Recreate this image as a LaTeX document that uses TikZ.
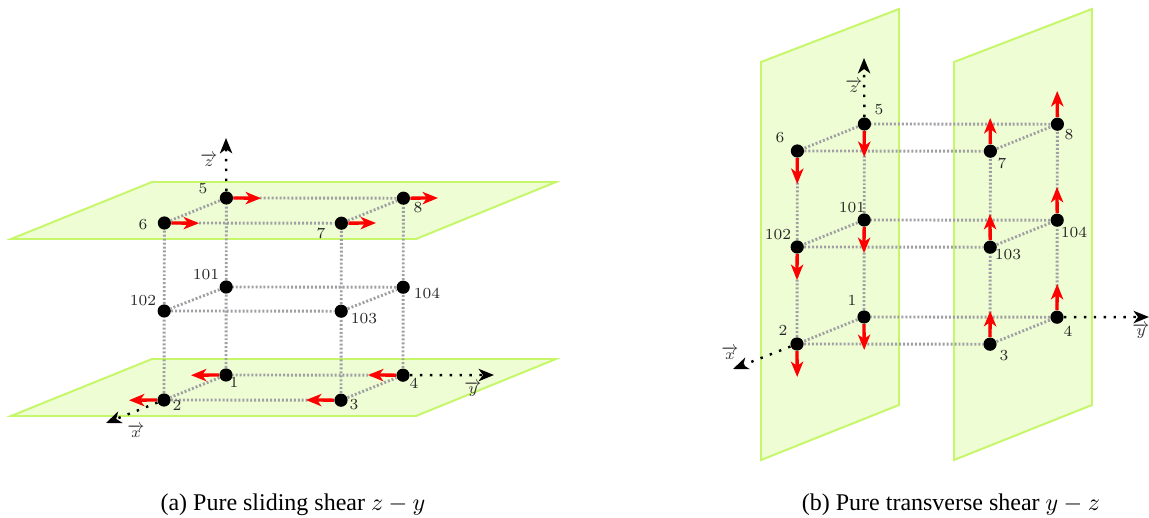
\documentclass[tikz,border=0pt]{standalone}
\usepackage{amsmath}
\usepackage{fontspec}
\setmainfont{Liberation Serif}
\usetikzlibrary{arrows.meta}
\tikzset{
    planebox/.style={draw=planeline, fill=planefill, line width=0.9pt},
    pt/.style={circle, fill=black, inner sep=0pt, minimum size=6pt},
    edgeline/.style={edgegray, line width=1.3pt, dash pattern=on 0.9pt off 0.9pt},
    axisline/.style={->, line width=1.1pt, dash pattern=on 1.1pt off 3.4pt},
    shear/.style={->, red, line width=1.5pt},
    num/.style={font=\scriptsize, inner sep=0pt, text=black!85},
    axislabel/.style={font=\scriptsize, inner sep=0pt, text=black!80},
    caption/.style={inner sep=0pt, font=\fontsize{10.9pt}{13pt}\selectfont}
}
\definecolor{planeline}{HTML}{C6F76A}
\definecolor{planefill}{HTML}{EFFDD4}
\definecolor{edgegray}{HTML}{A0A0A4}
\begin{document}
\begin{tikzpicture}[x=0.4545pt, y=-0.4545pt, >={Stealth[length=7pt,width=5.6pt,inset=2pt]}]
    \useasboundingbox (0,0) rectangle (1149,518);

    % Planes of the sliding shear
    \draw[planebox] (11,239) -- (152,182) -- (556,182) -- (416,239) -- cycle;
    \draw[planebox] (11,416) -- (152,359) -- (556,359) -- (416,416) -- cycle;

    % Points of the sliding shear
    \node[pt] (a1) at (226,375) {};
    \node[pt] (a2) at (164,400) {};
    \node[pt] (a3) at (341,400.2) {};
    \node[pt] (a4) at (403,375.2) {};
    \node[pt] (a5) at (226.4,198) {};
    \node[pt] (a6) at (164.4,223) {};
    \node[pt] (a7) at (341.4,223.2) {};
    \node[pt] (a8) at (403.4,198.2) {};
    \node[pt] (a101) at (226.2,287) {};
    \node[pt] (a102) at (164.2,311) {};
    \node[pt] (a103) at (341.2,311.2) {};
    \node[pt] (a104) at (403.2,287.2) {};

    % Edges of the sliding shear
    \draw[edgeline] (a1) -- (a101);
    \draw[edgeline] (a101) -- (a5);
    \draw[edgeline] (a2) -- (a102);
    \draw[edgeline] (a102) -- (a6);
    \draw[edgeline] (a3) -- (a103);
    \draw[edgeline] (a103) -- (a7);
    \draw[edgeline] (a4) -- (a104);
    \draw[edgeline] (a104) -- (a8);
    \draw[edgeline] (a1) -- (a2);
    \draw[edgeline] (a2) -- (a3);
    \draw[edgeline] (a3) -- (a4);
    \draw[edgeline] (a4) -- (a1);
    \draw[edgeline] (a5) -- (a6);
    \draw[edgeline] (a6) -- (a7);
    \draw[edgeline] (a7) -- (a8);
    \draw[edgeline] (a8) -- (a5);
    \draw[edgeline] (a101) -- (a102);
    \draw[edgeline] (a102) -- (a103);
    \draw[edgeline] (a103) -- (a104);
    \draw[edgeline] (a104) -- (a101);

    % Axes of the sliding shear
    \coordinate (axz) at (226,138);
    \coordinate (axy) at (494,375);
    \coordinate (axx) at (106,423);
    \draw[axisline] (a5) -- (axz);
    \draw[axisline] (a4) -- (axy);
    \draw[axisline] (a2) -- (axx);
    \node[axislabel] (lazz) at (209,160) {$\overrightarrow{z}$};
    \node[axislabel] (lazy) at (473,389) {$\overrightarrow{y}$};
    \node[axislabel] (lazx) at (136,431) {$\overrightarrow{x}$};

    % Shear arrows on the sliding planes
    \coordinate (as1) at (191,375.2);
    \coordinate (as2) at (129,400.2);
    \coordinate (as3) at (306,400);
    \coordinate (as4) at (368,375);
    \coordinate (as5) at (261,198.2);
    \coordinate (as6) at (199,223.2);
    \coordinate (as7) at (376,223);
    \coordinate (as8) at (438,198);
    \draw[shear] (a1) -- (as1);
    \draw[shear] (a2) -- (as2);
    \draw[shear] (a3) -- (as3);
    \draw[shear] (a4) -- (as4);
    \draw[shear] (a5) -- (as5);
    \draw[shear] (a6) -- (as6);
    \draw[shear] (a7) -- (as7);
    \draw[shear] (a8) -- (as8);

    % Numbers of the sliding shear
    \node[num] (la1) at (234,383) {$1$};
    \node[num] (la2) at (177,406) {$2$};
    \node[num] (la3) at (354,405) {$3$};
    \node[num] (la4) at (414,384) {$4$};
    \node[num] (la5) at (203,189) {$5$};
    \node[num] (la6) at (143,225) {$6$};
    \node[num] (la7) at (321,234) {$7$};
    \node[num] (la8) at (418,208) {$8$};
    \node[num] (la101) at (206,275) {$101$};
    \node[num] (la102) at (143,301) {$102$};
    \node[num] (la103) at (364,319) {$103$};
    \node[num] (la104) at (427,294) {$104$};

    % Planes of the transverse shear
    \draw[planebox] (761,62) -- (899,9) -- (899,405) -- (761,460) -- cycle;
    \draw[planebox] (954,62) -- (1092,9) -- (1092,405) -- (954,460) -- cycle;

    % Points of the transverse shear
    \node[pt] (b1) at (864,317) {};
    \node[pt] (b2) at (797,344) {};
    \node[pt] (b3) at (990,344.2) {};
    \node[pt] (b4) at (1057,317.2) {};
    \node[pt] (b5) at (864.4,124) {};
    \node[pt] (b6) at (797.4,151) {};
    \node[pt] (b7) at (990.4,151.2) {};
    \node[pt] (b8) at (1057.4,124.2) {};
    \node[pt] (b101) at (864.2,220) {};
    \node[pt] (b102) at (797.2,247) {};
    \node[pt] (b103) at (990.2,247.2) {};
    \node[pt] (b104) at (1057.2,220.2) {};

    % Edges of the transverse shear
    \draw[edgeline] (b1) -- (b101);
    \draw[edgeline] (b101) -- (b5);
    \draw[edgeline] (b2) -- (b102);
    \draw[edgeline] (b102) -- (b6);
    \draw[edgeline] (b3) -- (b103);
    \draw[edgeline] (b103) -- (b7);
    \draw[edgeline] (b4) -- (b104);
    \draw[edgeline] (b104) -- (b8);
    \draw[edgeline] (b1) -- (b2);
    \draw[edgeline] (b2) -- (b3);
    \draw[edgeline] (b3) -- (b4);
    \draw[edgeline] (b4) -- (b1);
    \draw[edgeline] (b5) -- (b6);
    \draw[edgeline] (b6) -- (b7);
    \draw[edgeline] (b7) -- (b8);
    \draw[edgeline] (b8) -- (b5);
    \draw[edgeline] (b101) -- (b102);
    \draw[edgeline] (b102) -- (b103);
    \draw[edgeline] (b103) -- (b104);
    \draw[edgeline] (b104) -- (b101);

    % Axes of the transverse shear
    \coordinate (bxz) at (864,58);
    \coordinate (bxy) at (1149,317);
    \coordinate (bxx) at (733,369);
    \draw[axisline] (b5) -- (bxz);
    \draw[axisline] (b4) -- (bxy);
    \draw[axisline] (b2) -- (bxx);
    \node[axislabel] (lbzz) at (854,86) {$\overrightarrow{z}$};
    \node[axislabel] (lbzy) at (1141,331) {$\overrightarrow{y}$};
    \node[axislabel] (lbzx) at (730,353) {$\overrightarrow{x}$};

    % Shear arrows on the transverse planes
    \coordinate (bs1) at (864.2,350);
    \coordinate (bs2) at (797.2,377);
    \coordinate (bs3) at (990.2,311);
    \coordinate (bs4) at (1057.2,284);
    \coordinate (bs5) at (864.2,157);
    \coordinate (bs6) at (797.2,184);
    \coordinate (bs7) at (990.2,118);
    \coordinate (bs8) at (1057.2,91);
    \coordinate (bs101) at (864,253);
    \coordinate (bs102) at (797,280);
    \coordinate (bs103) at (990,214);
    \coordinate (bs104) at (1057,187);
    \draw[shear] (b1) -- (bs1);
    \draw[shear] (b2) -- (bs2);
    \draw[shear] (b3) -- (bs3);
    \draw[shear] (b4) -- (bs4);
    \draw[shear] (b5) -- (bs5);
    \draw[shear] (b6) -- (bs6);
    \draw[shear] (b7) -- (bs7);
    \draw[shear] (b8) -- (bs8);
    \draw[shear] (b101) -- (bs101);
    \draw[shear] (b102) -- (bs102);
    \draw[shear] (b103) -- (bs103);
    \draw[shear] (b104) -- (bs104);

    % Numbers of the transverse shear
    \node[num] (lb1) at (852,301) {$1$};
    \node[num] (lb2) at (783,331) {$2$};
    \node[num] (lb3) at (1004,356) {$3$};
    \node[num] (lb4) at (1068,332) {$4$};
    \node[num] (lb5) at (879,110) {$5$};
    \node[num] (lb6) at (780,138) {$6$};
    \node[num] (lb7) at (1002,164) {$7$};
    \node[num] (lb8) at (1069,135) {$8$};
    \node[num] (lb101) at (852,208) {$101$};
    \node[num] (lb102) at (778,235) {$102$};
    \node[num] (lb103) at (1008,255) {$103$};
    \node[num] (lb104) at (1074,233) {$104$};

    % Captions
    \node[caption] (capa) at (293,505) {(a) Pure sliding shear $z-y$};
    \node[caption] (capb) at (951,505) {(b) Pure transverse shear $y-z$};
\end{tikzpicture}
\end{document}
